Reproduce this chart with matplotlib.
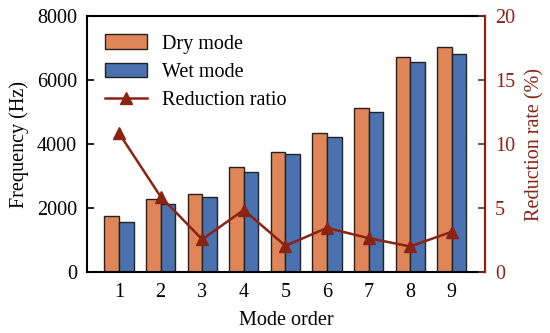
import matplotlib.pyplot as plt
import numpy as np

plt.rcParams['font.family'] = ['Liberation Serif', 'DejaVu Serif']
plt.rcParams['font.size'] = 14.5
plt.rcParams['mathtext.fontset'] = 'stix'

modes = [1, 2, 3, 4, 5, 6, 7, 8, 9]
dry_mode = [1750, 2270, 2430, 3280, 3760, 4355, 5135, 6710, 7030]
wet_mode = [1565, 2135, 2355, 3125, 3690, 4220, 5000, 6570, 6810]
reduction_ratio = [10.85, 5.9, 2.55, 4.85, 2.05, 3.45, 2.65, 2.0, 3.15]

ORANGE = '#E08557'
BLUE = '#4A72B1'
DARKRED = '#8B2312'

fig = plt.figure(figsize=(5.5, 3.33), dpi=100)
ax = fig.add_axes([0.158, 0.183, 0.724, 0.769])
x = np.array(modes)
w = 0.35

ax.bar(x - w / 2, dry_mode, w, color=ORANGE, edgecolor='#222222', linewidth=1.0,
       label='Dry mode', zorder=2)
ax.bar(x + w / 2, wet_mode, w, color=BLUE, edgecolor='#222222', linewidth=1.0,
       label='Wet mode', zorder=2)
ax.set_xlim(0.23, 9.8)
ax.set_ylim(0, 8000)
ax.set_xticks(modes)
ax.set_yticks([0, 2000, 4000, 6000, 8000])
ax.set_xlabel('Mode order', labelpad=6.2)
ax.set_ylabel('Frequency (Hz)', labelpad=6)
ax.tick_params(direction='in', length=5, width=1.2)
ax.tick_params(axis='x', pad=8)
ax.tick_params(axis='y', pad=7)
for s in ax.spines.values():
    s.set_linewidth(1.5)

ax2 = ax.twinx()
line, = ax2.plot(x, reduction_ratio, color=DARKRED, marker='^', markersize=8,
                 linewidth=1.8, label='Reduction ratio')
ax2.set_ylim(0, 20)
ax2.set_yticks([0, 5, 10, 15, 20])
ax2.set_ylabel('Reduction rate (%)', color=DARKRED, labelpad=7.5)
ax2.tick_params(axis='y', direction='in', length=5, width=1.2, colors=DARKRED,
                pad=7)
ax2.spines['right'].set_color(DARKRED)
ax2.spines['right'].set_linewidth(1.5)
for k in ['left', 'top', 'bottom']:
    ax2.spines[k].set_visible(False)

h1, l1 = ax.get_legend_handles_labels()
ax2.legend(h1 + [line], l1 + ['Reduction ratio'], loc='upper left',
           frameon=False, handlelength=2.1, handleheight=0.75,
           handletextpad=0.75, borderaxespad=0.5, labelspacing=0.45,
           fontsize=14.5)

fig.savefig('out.png', dpi=100)
